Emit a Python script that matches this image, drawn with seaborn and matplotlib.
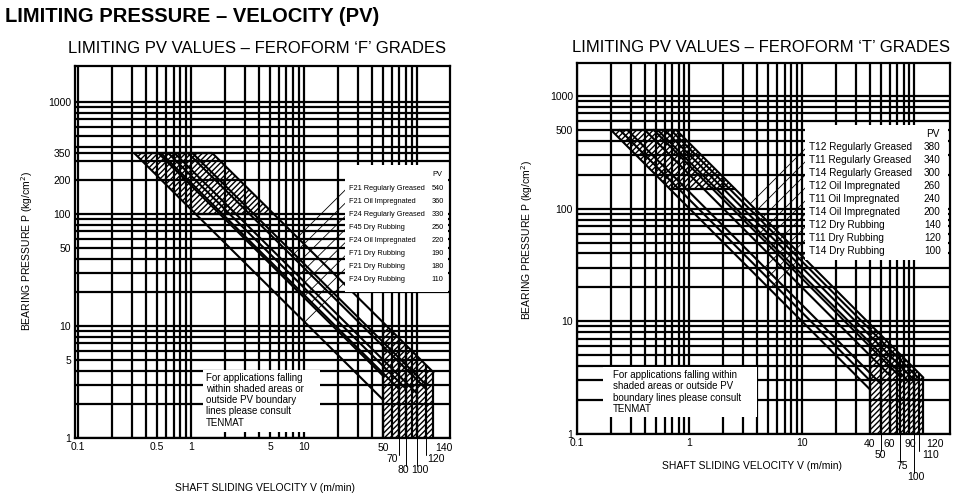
import numpy as np
import pandas as pd
import seaborn as sns
import matplotlib.pyplot as plt
from matplotlib.patches import Rectangle
from matplotlib.transforms import blended_transform_factory

# ---- data: Feroform 'F' grades ----
f_grades = ['F21 Regularly Greased', 'F21 Oil Impregnated', 'F24 Regularly Greased',
            'F45 Dry Rubbing', 'F24 Oil Impregnated', 'F71 Dry Rubbing',
            'F21 Dry Rubbing', 'F24 Dry Rubbing']
f_pv = [540, 360, 330, 250, 220, 190, 180, 110]
f_vmax = [140, 120, 120, 100, 80, 70, 50, 50]
f_vlim = [50, 70, 80, 100, 120, 140]
f_pmax = 350
f_pshade = 100
f_xticks = [0.1, 0.5, 1, 5, 10]
f_yticks = [1, 5, 10, 50, 100, 200, 350, 1000]

# ---- data: Feroform 'T' grades ----
t_grades = ['T12 Regularly Greased', 'T11 Regularly Greased', 'T14 Regularly Greased',
            'T12 Oil Impregnated', 'T11 Oil Impregnated', 'T14 Oil Impregnated',
            'T12 Dry Rubbing', 'T11 Dry Rubbing', 'T14 Dry Rubbing']
t_pv = [380, 340, 300, 260, 240, 200, 140, 120, 100]
t_vmax = [120, 110, 100, 90, 75, 60, 50, 40, 40]
t_vlim = [40, 50, 60, 75, 90, 100, 110, 120]
t_pmax = 500
t_pshade = 150
t_xticks = [0.1, 1, 10]
t_yticks = [1, 10, 100, 500, 1000]

note_f = 'For applications falling\nwithin shaded areas or\noutside PV boundary\nlines please consult\nTENMAT'
note_t = 'For applications falling within\nshaded areas or outside PV\nboundary lines please consult\nTENMAT'

sns.set_style('white')
plt.rcParams['font.family'] = ['Liberation Sans', 'DejaVu Sans']
plt.rcParams['text.color'] = 'black'
plt.rcParams['axes.labelcolor'] = 'black'
plt.rcParams['hatch.linewidth'] = 1.0

fig = plt.figure(figsize=(9.6, 4.95), dpi=100)
ax_f = fig.add_axes([75 / 960, 57 / 495, 375 / 960, 372 / 495])
ax_t = fig.add_axes([577 / 960, 61 / 495, 373 / 960, 371 / 495])


def log_grid(lo, hi):
    vals = [m * 10.0 ** e for e in range(-1, 4) for m in range(1, 10)]
    return [v for v in vals if lo < v < hi * 0.95]


def draw_chart(ax, grades, pv, vmax, vlim, pmax, pshade, xticks, yticks, xlim, ylim,
               lab_rows, lab_fmt, box, rows_y, legend_size, num_x, note, note_box,
               note_xy, xlab_xy, ylab_xy):
    ax.set(xscale='log', yscale='log', xlim=xlim, ylim=ylim)
    ax.set_xticks(xticks)
    ax.set_xticklabels([f'{v:g}' for v in xticks])
    ax.set_yticks(yticks)
    ax.set_yticklabels([f'{v:g}' for v in yticks])
    ax.set_xticks(log_grid(*xlim), minor=True)
    ax.set_yticks(log_grid(*ylim) + [pmax], minor=True)
    ax.set_xticklabels([], minor=True)
    ax.set_yticklabels([], minor=True)
    ax.grid(which='both', color='black', lw=1.6, zorder=1)
    ax.tick_params(which='both', length=0, labelsize=7.5, pad=3, colors='black')
    for s in ax.spines.values():
        s.set_color('black')
        s.set_linewidth(1.6)

    # PV boundary lines
    rows = []
    for g, c, vm in zip(grades, pv, vmax):
        rows.append({'grade': g, 'V': c / pmax, 'P': pmax})
        rows.append({'grade': g, 'V': vm, 'P': c / vm})
    df = pd.DataFrame(rows)
    sns.lineplot(data=df, x='V', y='P', units='grade', estimator=None, sort=False,
                 color='black', lw=1.5, ax=ax, zorder=4, legend=False)

    lo, hi = min(pv), max(pv)
    # shaded high-pressure area
    ax.fill([lo / pmax, hi / pmax, hi / pshade, lo / pshade],
            [pmax, pmax, pshade, pshade], fill=False, hatch='//////',
            ec='black', lw=0, zorder=3)
    ax.plot([lo / pmax, hi / pmax], [pmax, pmax], color='black', lw=1.6, zorder=4)
    ax.plot([lo / pshade, hi / pshade], [pshade, pshade], color='black', lw=1.6, zorder=4)
    # shaded high-velocity area
    v0, v1 = min(vlim), max(vlim)
    ax.fill([v0, v0, v1, v1], [ylim[0], hi / v0, hi / v1, ylim[0]], fill=False,
            hatch='//////', ec='black', lw=0, zorder=3)
    ax.vlines(vlim, ylim[0], [hi / v for v in vlim], color='black', lw=1.6, zorder=4)

    # velocity limit labels under the axis
    bl = blended_transform_factory(ax.transData, ax.transAxes)
    row_y = [-0.027, -0.057, -0.087, -0.117]
    for v, r, (ha, dx) in zip(vlim, lab_rows, lab_fmt):
        ax.annotate(f'{v:g}', xy=(v, row_y[r]), xycoords=bl, xytext=(dx, 0),
                    textcoords='offset points', ha=ha, va='center', fontsize=7.5)
        if r > 0:
            ax.plot([v, v], [0, row_y[r] + 0.012], transform=bl, color='black',
                    lw=0.7, clip_on=False)

    # legend box with leader lines
    bx0, by0, bx1, by1 = box
    ax.add_patch(Rectangle((bx0, by0), bx1 - bx0, by1 - by0, transform=ax.transAxes,
                           fc='white', ec='none', zorder=5))
    ax.text(num_x - 0.003, by1 - 0.025, 'PV', transform=ax.transAxes, ha='right',
            va='center', fontsize=legend_size, zorder=6)
    inv = ax.transData.inverted()
    for g, c, ry in zip(grades, pv, rows_y):
        ax.text(bx0 + 0.01, ry, g, transform=ax.transAxes, ha='left', va='center',
                fontsize=legend_size, zorder=6)
        ax.text(num_x, ry, f'{c}', transform=ax.transAxes, ha='right', va='center',
                fontsize=legend_size, zorder=6)
        vb, pb = inv.transform(ax.transAxes.transform((bx0 + 0.006, ry)))
        k = pb / vb
        vi = np.sqrt(c / k)
        ax.plot([vb, vi], [pb, c / vi], color='black', lw=0.6, zorder=4)

    # note box
    nx0, ny0, nx1, ny1 = note_box
    ax.add_patch(Rectangle((nx0, ny0), nx1 - nx0, ny1 - ny0, transform=ax.transAxes,
                           fc='white', ec='none', zorder=5))
    ax.text(note_xy[0], note_xy[1], note, transform=ax.transAxes, ha='left', va='top',
            fontsize=7, linespacing=1.15, zorder=6)

    ax.set_xlabel('SHAFT SLIDING VELOCITY V (m/min)', fontsize=7.5)
    ax.set_ylabel('BEARING PRESSURE P (kg/cm$^2$)', fontsize=7.5)
    ax.xaxis.set_label_coords(*xlab_xy)
    ax.yaxis.set_label_coords(*ylab_xy)


draw_chart(ax_f, f_grades, f_pv, f_vmax, f_vlim, f_pmax, f_pshade, f_xticks, f_yticks,
           (0.094, 196), (1, 2100),
           lab_rows=[0, 1, 2, 2, 1, 0],
           lab_fmt=[('center', 0), ('right', -1), ('center', -2), ('center', 2),
                    ('left', 1), ('left', 1)],
           box=(0.72, 0.392, 0.995, 0.734),
           rows_y=np.linspace(0.672, 0.425, len(f_grades)),
           legend_size=5.3, num_x=0.983,
           note=note_f, note_box=(0.341, 0.016, 0.653, 0.183), note_xy=(0.349, 0.175),
           xlab_xy=(0.507, -0.121), ylab_xy=(-0.107, 0.503))

draw_chart(ax_t, t_grades, t_pv, t_vmax, t_vlim, t_pmax, t_pshade, t_xticks, t_yticks,
           (0.1, 207), (1, 1960),
           lab_rows=[0, 1, 0, 2, 0, 3, 1, 0],
           lab_fmt=[('center', 0), ('center', 0), ('center', 0), ('center', 1),
                    ('center', 1), ('center', 1), ('left', 2), ('left', 2)],
           box=(0.611, 0.469, 0.995, 0.833),
           rows_y=np.linspace(0.774, 0.493, len(t_grades)),
           legend_size=7.2, num_x=0.975,
           note=note_t, note_box=(0.07, 0.046, 0.483, 0.18), note_xy=(0.097, 0.172),
           xlab_xy=(0.469, -0.073), ylab_xy=(-0.113, 0.523))

fig.text(0.005, 0.966, 'LIMITING PRESSURE \u2013 VELOCITY (PV)', fontsize=14.5,
         fontweight='bold', va='center', ha='left')
fig.text(68 / 960, 0.903, 'LIMITING PV VALUES \u2013 FEROFORM \u2018F\u2019 GRADES',
         fontsize=12, va='center', ha='left')
fig.text(572 / 960, 0.905, 'LIMITING PV VALUES \u2013 FEROFORM \u2018T\u2019 GRADES',
         fontsize=12, va='center', ha='left')

fig.savefig('out.png', dpi=100, facecolor='white')
